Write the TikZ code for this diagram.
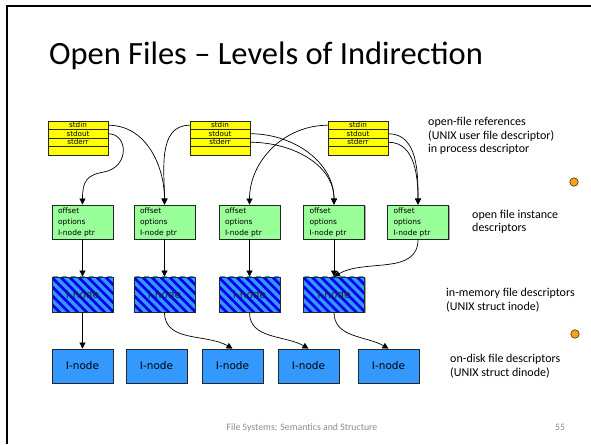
\documentclass[tikz,border=0pt]{standalone}
\usepackage{fontspec}
\setmainfont{Carlito}
\newfontfamily\diagfont{DejaVu Sans}
\usetikzlibrary{arrows.meta}
\definecolor{rowyellow}{HTML}{FFFF00}
\definecolor{descgreen}{HTML}{99FF99}
\definecolor{inodeblue}{HTML}{0000F0}
\definecolor{stripeblue}{HTML}{3399FF}
\definecolor{diskblue}{HTML}{3399FF}
\definecolor{dotorange}{HTML}{F7A21B}
\definecolor{footgray}{HTML}{8C8C8C}
\begin{document}
\begin{tikzpicture}[x=1pt,y=1pt,
  boxline/.style={draw=black!85, line width=0.8pt},
  softshadow/.style={preaction={fill=black!35, transform canvas={xshift=1pt,yshift=-1pt}}},
  fdrow/.style={boxline, fill=rowyellow, minimum width=60pt, minimum height=8.5pt,
    inner sep=0pt, font=\diagfont\fontsize{7.2}{8}\selectfont},
  descbox/.style={boxline, softshadow, fill=descgreen, minimum width=61pt, minimum height=34pt,
    inner xsep=6pt, inner ysep=0pt, text width=49pt, align=left,
    font=\diagfont\fontsize{7.5}{11}\selectfont},
  stripebox/.style={boxline, softshadow, fill=inodeblue, minimum width=61pt, minimum height=35pt,
    inner sep=0pt, font=\diagfont\fontsize{10.5}{12}\selectfont, text=black!85,
    path picture={
      \foreach \k in {-6,...,6}{
        \draw[stripeblue, line width=3.2pt]
          ([xshift=\k*9pt-40pt, yshift=40pt]path picture bounding box.center) -- ++(80pt,-80pt);
      }}},
  diskbox/.style={boxline, softshadow, fill=diskblue, minimum width=61pt, minimum height=34pt,
    inner sep=0pt, font=\diagfont\fontsize{10.5}{12}\selectfont},
  lab/.style={anchor=west, align=left, inner sep=0pt, font=\fontsize{12}{13.5}\selectfont},
  foot/.style={anchor=base, inner sep=0pt, text=footgray, font=\fontsize{9.8}{11}\selectfont},
  dot/.style={circle, draw=black!70!dotorange, fill=dotorange, line width=0.6pt,
    minimum size=8.5pt, inner sep=0pt},
  conn/.style={draw=black, line width=0.7pt, -{Triangle[length=6pt,width=6pt]}}
]
\useasboundingbox (0,0) rectangle (591,444);
\fill[white] (0,0) rectangle (591,444);

% slide frame
\draw[line width=1.8pt] (7,0) -- (7,438) -- (591,438);

% title
\node[anchor=base, inner sep=0pt, font=\fontsize{32.5}{38}\selectfont] (title) at (266,379)
  {Open Files -- Levels of Indirection};

% per-process file descriptor tables
\foreach \gx/\gi in {78/1,220/2,358/3}{
  \fill[black!35] (\gx-29,288) rectangle (\gx+31,322);
  \node[fdrow] (g\gi-in)  at (\gx,318.75) {stdin};
  \node[fdrow] (g\gi-out) at (\gx,310.25) {stdout};
  \node[fdrow] (g\gi-err) at (\gx,301.75) {stderr};
  \node[fdrow] (g\gi-nil) at (\gx,293.25) {};
}

% open file instance descriptors
\foreach \dx/\di in {82.5/1,164.5/2,249.5/3,334/4,418/5}{
  \node[descbox] (d\di) at (\dx,222) {offset\\options\\I-node ptr};
}

% in-memory inodes
\foreach \mx/\mi in {82.5/1,164.5/2,249.5/3,334/4}{
  \node[stripebox] (m\mi) at (\mx,149.5) {I-node};
}

% on-disk inodes
\foreach \kx/\ki in {82.5/1,156.5/2,232.5/3,308.5/4,388.5/5}{
  \node[diskbox] (k\ki) at (\kx,78) {I-node};
}

% descriptor table -> open file instance
\draw[conn] (g1-in.east) to[out=0,in=90] (d2.north);
\draw[conn] (g1-out.east) .. controls (128,310.25) and (130,277) .. (104,272)
                          .. controls (86,269) and (82.5,262) .. (d1.north);
\draw[conn] (g2-in.west) to[out=180,in=90] (d2.north);
\draw[conn] (g3-in.west) to[out=180,in=90] (d3.north);
\draw[conn] (g2-out.east) to[out=0,in=90] (d4.north);
\draw[conn] (g2-err.east) to[out=0,in=90] (d4.north);
\draw[conn] (g3-out.east) to[out=0,in=90] (d5.north);
\draw[conn] (g3-err.east) to[out=0,in=90] (d5.north);

% open file instance -> in-memory inode
\draw[conn] (d1.south) -- (m1.north);
\draw[conn] (d2.south) -- (m2.north);
\draw[conn] (d3.south) -- (m3.north);
\draw[conn] (d4.south) -- (m4.north);
\draw[conn] (d5.south) to[out=-90,in=30] (m4.north);

% in-memory inode -> on-disk inode
\draw[conn] (m1.south) -- (k1.north);
\draw[conn] (m2.south) to[out=-90,in=150] (k3.north);
\draw[conn] (m3.south) to[out=-90,in=150] (k4.north);
\draw[conn] (m4.south) to[out=-90,in=150] (k5.north);

% level captions
\node[lab] (c1) at (428,308) {open-file references\\(UNIX user file descriptor)\\in process descriptor};
\node[lab] (c2) at (472,222) {open file instance\\descriptors};
\node[lab] (c3) at (446,144) {in-memory file descriptors\\(UNIX struct inode)};
\node[lab] (c4) at (450,78) {on-disk file descriptors\\(UNIX struct dinode)};

% markers
\node[dot] (o1) at (574,262) {};
\node[dot] (o2) at (575,110) {};

% footer
\node[foot] (f1) at (302,13) {File Systems: Semantics and Structure};
\node[foot] (f2) at (560,13) {55};
\end{tikzpicture}
\end{document}
